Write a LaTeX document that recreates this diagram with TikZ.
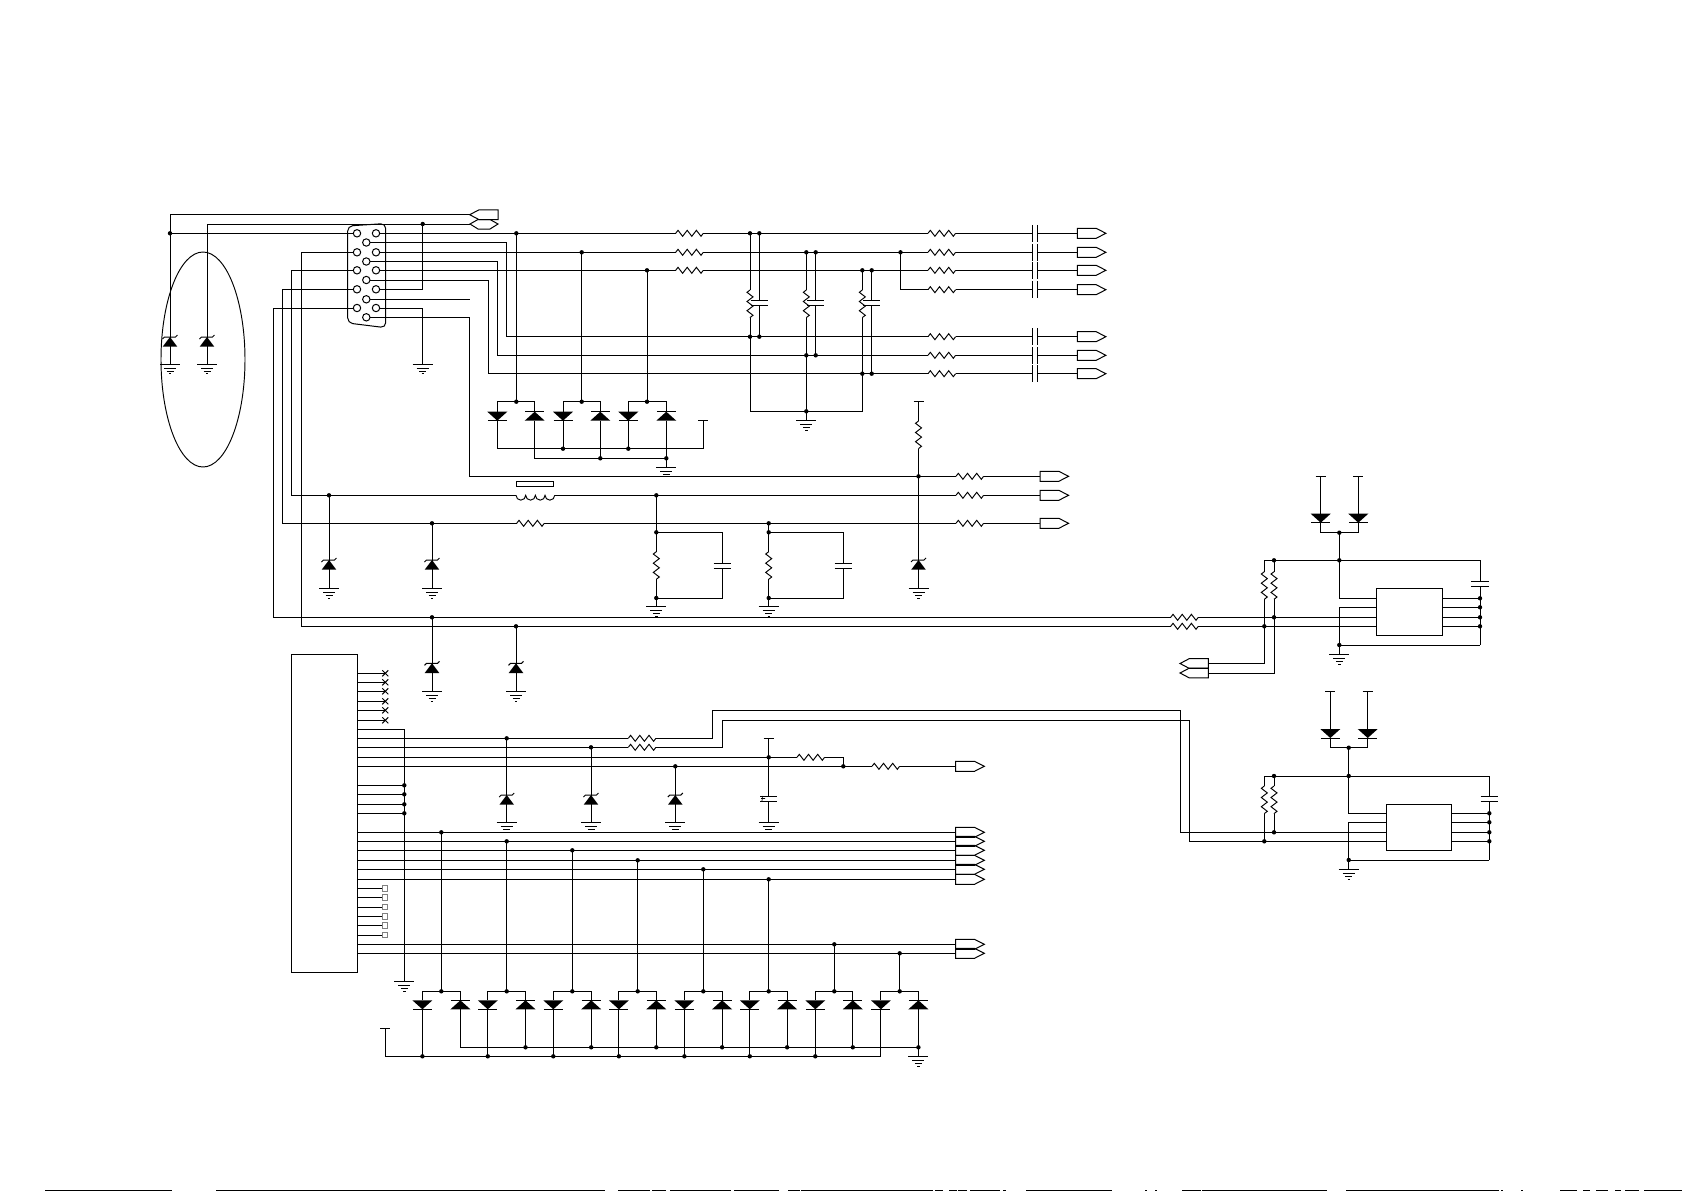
\documentclass[tikz,border=0pt]{standalone}
\usetikzlibrary{shapes.geometric}
% --- components: first argument is the name, coordinates are reference pixels
\newcommand{\Dot}[3]{\coordinate (#1) at (#2,#3);\fill (#1) circle (2.2);}
\newcommand{\Rh}[3]{\coordinate (#1w) at (#2,#3);\coordinate (#1e) at (#2+27.6,#3);
  \draw[zig] (#1w) -- ++(2.3,-3) -- ++(4.6,6) -- ++(4.6,-6) -- ++(4.6,6) -- ++(4.6,-6) -- ++(4.6,6) -- (#1e);}
\newcommand{\Rv}[3]{\coordinate (#1n) at (#2,#3);\coordinate (#1s) at (#2,#3+27.6);
  \draw[zig] (#1n) -- ++(-3,2.3) -- ++(6,4.6) -- ++(-6,4.6) -- ++(6,4.6) -- ++(-6,4.6) -- ++(6,4.6) -- (#1s);}
\newcommand{\Zen}[3]{\coordinate (#1a) at (#2,#3);
  \fill (#1a) -- ++(7.3,9.7) -- ++(-14.6,0) -- cycle;
  \draw (#2-7.5,#3+2) -- (#2-5.5,#3) -- (#2+5.5,#3) -- (#2+7.5,#3-2);}
\newcommand{\Gnd}[3]{\coordinate (#1) at (#2,#3);
  \draw (#2-10,#3) -- (#2+10,#3) (#2-6,#3+4) -- (#2+6,#3+4) (#2-3.5,#3+7) -- (#2+3.5,#3+7) (#2-1.2,#3+9.7) -- (#2+1.2,#3+9.7);}
\newcommand{\Tc}[3]{\coordinate (#1) at (#2,#3);\draw (#2-5,#3) -- (#2+5,#3);}
\newcommand{\Dd}[3]{\coordinate (#1a) at (#2,#3);\coordinate (#1k) at (#2,#3+9);
  \fill (#2-10,#3) -- (#2+10,#3) -- (#1k) -- cycle;\draw (#2-9.5,#3+9) -- (#2+9.5,#3+9);}
\newcommand{\Du}[3]{\coordinate (#1a) at (#2,#3);\coordinate (#1k) at (#2,#3+9);
  \fill (#1a) -- (#2+10,#3+9) -- (#2-10,#3+9) -- cycle;\draw (#2-9.5,#3) -- (#2+9.5,#3);}
\newcommand{\Cv}[3]{\coordinate (#1n) at (#2,#3);\coordinate (#1s) at (#2,#3+5.3);
  \draw (#2-8.7,#3) -- (#2+8.7,#3) (#2-8.7,#3+5.3) -- (#2+8.7,#3+5.3);}
\newcommand{\Cs}[2]{\coordinate (#1w) at (1032.3,#2);\coordinate (#1e) at (1037.3,#2);
  \draw (1032.3,#2-8.5) -- (1032.3,#2+8.5) (1037.3,#2-8.5) -- (1037.3,#2+8.5);}
\newcommand{\Ar}[3]{\coordinate (#1) at (#2,#3);
  \draw (#2,#3-5) -- (#2+18.8,#3-5) -- (#2+28.6,#3) -- (#2+18.8,#3+5) -- (#2,#3+5) -- cycle;}
\newcommand{\Al}[3]{\coordinate (#1) at (#2,#3);\coordinate (#1t) at (#2-28.3,#3);
  \draw (#1t) -- (#2-19,#3-4.9) -- (#2,#3-4.9) -- (#2,#3+4.9) -- (#2-19,#3+4.9) -- cycle;}
\tikzset{
  zig/.style={line width=.95pt,line join=miter},
  pin/.style={circle,draw,fill=white,inner sep=0pt,outer sep=0pt,minimum size=7.4pt},
  nc/.style={rectangle,draw=gray,inner sep=0pt,outer sep=0pt,minimum size=5.5pt},
  block/.style={rectangle,draw,inner sep=0pt,outer sep=0pt,fill=none},
}
\begin{document}
\begin{tikzpicture}[x=1pt,y=-1pt,line width=1pt]
\useasboundingbox (0,0) rectangle (1685,1191);

% bottom edge strip
\foreach \a/\b in {45/172,216/605,618/650,652/666,670/731,734/779,788/800,801/933,935/943,949/957,958/967,970/1000,1003/1006,1026/1112,1145/1147,1155/1157,1182/1201,1202/1327,1346/1499,1501/1503,1521/1523,1560/1577,1583/1590,1596/1608,1615/1621,1625/1639,1644/1682}
  \draw (\a,1190.5) -- (\b,1190.5);

% left-hand shield
\node[draw,ellipse,line width=.95pt,inner sep=0pt,outer sep=0pt,minimum width=84pt,minimum height=215pt] (shield) at (203,359.5) {};
\Al{ja}{498}{214.7}
\coordinate (jb) at (498,224);\coordinate (jbt) at (470,224);
\draw (jbt) -- (478,219.5) -- (490,219.5) -- (jb) -- (490,229) -- (478,229) -- cycle;
\Dot{d1}{170}{233.3}\Dot{d2}{422.7}{224}
\Zen{za}{170}{337}\Zen{zb}{207}{337}
\Gnd{ga}{170}{364}\Gnd{gb}{207}{364}\Gnd{gc}{422.7}{364}

% VGA connector
\draw[rounded corners=5pt] (347.7,226) -- (385.7,223.5) -- (385.7,327.7) -- (347.7,323) -- cycle;
\foreach \i/\y in {1/233.3,2/252.3,3/270.3,4/289.3,5/308}{
  \node[pin] (pa\i) at (357,\y) {};
  \node[pin] (pc\i) at (376,\y) {};}
\foreach \i/\y in {1/242.5,2/261.5,3/280,4/299.3,5/317.3}
  \node[pin] (pb\i) at (366.3,\y) {};

\draw (jat) -| (ga);
\draw (jbt) -| (gb);
\draw (d1) -- (pa1);
\draw (pc4) -| (d2);
\draw (pc5) -| (gc);
\coordinate (e1) at (470,299.3);
\draw (pb4) -- (e1);

% upper signal lines
\Dot{d3}{516.3}{233.3}\Dot{d4}{581.7}{252.3}\Dot{d5}{647}{270.3}
\Dot{d3b}{516.3}{401.7}\Dot{d4b}{581.7}{401.7}\Dot{d5b}{647}{401.7}
\Dot{d6a}{750}{233.3}\Dot{d6b}{759.3}{233.3}
\Dot{d7a}{806.3}{252.3}\Dot{d7b}{815.7}{252.3}
\Dot{d8a}{862.3}{270.3}\Dot{d8b}{871.7}{270.3}
\Dot{d9a}{750}{336.7}\Dot{d9b}{759.3}{336.7}
\Dot{d10a}{806.3}{355.3}\Dot{d10b}{815.7}{355.3}
\Dot{d11a}{862.3}{373.7}\Dot{d11b}{871.7}{373.7}
\Dot{d12}{806.3}{411.3}\Dot{d13}{900.5}{252.3}
\Rh{ra}{675.7}{233.3}\Rh{rb}{675.7}{252.3}\Rh{rc}{675.7}{270.3}
\Rh{rd}{928}{233.3}\Rh{re}{928}{252.3}\Rh{rf}{928}{270.3}\Rh{rg}{928}{289.7}
\Rh{rh}{928}{336.7}\Rh{ri}{928}{355.3}\Rh{rj}{928}{373.7}
\Cs{ca}{233.3}\Cs{cb}{252.3}\Cs{cc}{270.3}\Cs{cd}{289.7}\Cs{ce}{336.7}\Cs{cf}{355.3}\Cs{cg}{373.7}
\Ar{oa}{1077.3}{233.3}\Ar{ob}{1077.3}{252.3}\Ar{oc}{1077.3}{270.3}\Ar{od}{1077.3}{289.7}
\Ar{oe}{1077.3}{336.7}\Ar{of}{1077.3}{355.3}\Ar{og}{1077.3}{373.7}
\coordinate (v1) at (506.3,336.7);\coordinate (v2) at (497.3,355.3);\coordinate (v3) at (488.3,373.7);
\draw (pc1) -- (raw);\draw (rae) -- (rdw);\draw (rde) -- (caw);\draw (cae) -- (oa);
\draw (pc2) -- (rbw);\draw (rbe) -- (rew);\draw (ree) -- (cbw);\draw (cbe) -- (ob);
\draw (pc3) -- (rcw);\draw (rce) -- (rfw);\draw (rfe) -- (ccw);\draw (cce) -- (oc);
\draw (d13) |- (rgw);\draw (rge) -- (cdw);\draw (cde) -- (od);
\draw (pb1) -| (v1) -- (rhw);\draw (rhe) -- (cew);\draw (cee) -- (oe);
\draw (pb2) -| (v2) -- (riw);\draw (rie) -- (cfw);\draw (cfe) -- (of);
\draw (pb3) -| (v3) -- (rjw);\draw (rje) -- (cgw);\draw (cge) -- (og);
\draw (d3) -- (d3b);\draw (d4) -- (d4b);\draw (d5) -- (d5b);

% RC filters on the three colour lines
\Rv{rva}{750}{290}\Rv{rvb}{806.3}{290}\Rv{rvc}{862.3}{290}
\Cv{cva}{759.3}{300.3}\Cv{cvb}{815.7}{300.3}\Cv{cvc}{871.7}{300.3}
\draw (d6a) -- (rvan);\draw (rvas) -- (d9a);\draw (d6b) -- (cvan);\draw (cvas) -- (d9b);
\draw (d7a) -- (rvbn);\draw (rvbs) -- (d10a);\draw (d7b) -- (cvbn);\draw (cvbs) -- (d10b);
\draw (d8a) -- (rvcn);\draw (rvcs) -- (d11a);\draw (d8b) -- (cvcn);\draw (cvcs) -- (d11b);
\Gnd{gd}{806.3}{420.3}
\draw (d9a) |- (d12);\draw (d11a) |- (d12);\draw (d10a) -- (gd);

% protection diodes, upper group
\Dd{dda}{497.3}{411.7}\Du{ddb}{534.7}{411.7}
\Dd{ddc}{563}{411.7}\Du{ddd}{600.3}{411.7}
\Dd{dde}{628.3}{411.7}\Du{ddf}{666.3}{411.7}
\draw (ddaa) |- (d3b) -| (ddba);
\draw (ddca) |- (d4b) -| (ddda);
\draw (ddea) |- (d5b) -| (ddfa);
\Dot{d20}{563}{448.7}\Dot{d21}{628.3}{448.7}\Dot{d22}{600.3}{458.3}\Dot{d23}{666.3}{458.3}
\Tc{ta}{703}{420.3}
\coordinate (cn1) at (703,448.7);
\Gnd{ge}{666.3}{467}
\draw (ddak) |- (cn1) -- (ta);
\draw (ddck) -- (d20);\draw (ddek) -- (d21);
\draw (ddbk) |- (d23);\draw (dddk) -- (d22);\draw (ddfk) -- (ge);

% sync and power lines
\coordinate (v4) at (469.7,476.3);
\coordinate (h1) at (301,626.3);\coordinate (h2) at (291.3,495.3);
\coordinate (h3) at (282.3,523.3);\coordinate (h4) at (273.3,617.3);
\Dot{d14}{918.5}{476.3}
\Rh{rk}{956}{476.3}\Rh{rl}{956}{495.3}\Rh{rm}{956}{523.3}\Rh{rn}{516.7}{523.3}
\Ar{oh}{1040}{476.3}\Ar{oi}{1040}{495.3}\Ar{oj}{1040}{523.3}
\coordinate (lw) at (516,495.3);\coordinate (le) at (554.7,495.3);
\draw[line width=.95pt] (lw) arc[start angle=180,end angle=0,radius=4.84] arc[start angle=180,end angle=0,radius=4.84] arc[start angle=180,end angle=0,radius=4.84] arc[start angle=180,end angle=0,radius=4.84];
\node[block,minimum width=37.7pt,minimum height=5pt] (core) at (534.85,483.8) {};
\draw (pb5) -| (v4) -- (rkw);\draw (rke) -- (oh);
\draw (pa3) -| (h2) -- (lw);\draw (le) -- (rlw);\draw (rle) -- (oi);
\draw (pa4) -| (h3) -- (rnw);\draw (rne) -- (rmw);\draw (rme) -- (oj);

\Dot{d31}{329}{495.3}\Dot{d32}{432}{523.3}\Dot{d33}{656.3}{495.3}\Dot{d34}{768.7}{523.3}
\Dot{d35}{432}{617.3}\Dot{d36}{516}{626.3}
\Zen{zc}{329}{560}\Zen{zd}{432}{560}\Zen{ze}{432}{663.3}\Zen{zf}{516}{663.3}\Zen{zg}{918.5}{560}
\Gnd{gf}{329}{588.3}\Gnd{gg}{432}{588.3}\Gnd{gh}{432}{691.3}\Gnd{gi}{516}{691.3}\Gnd{gj}{918.5}{588.3}
\draw (d31) -- (gf);\draw (d32) -- (gg);\draw (d35) -- (gh);\draw (d36) -- (gi);
\Tc{tb}{918.5}{401.5}\Rv{rvd}{918.5}{421}
\draw (tb) -- (rvdn);\draw (rvds) -- (d14);\draw (d14) -- (gj);

\Dot{d41}{656.3}{532.3}\Dot{d42}{656.3}{598}\Dot{d43}{768.7}{532.3}\Dot{d44}{768.7}{598}
\Rv{rve}{656.3}{551.7}\Rv{rvf}{768.7}{551.7}
\Cv{cvd}{722.3}{563.3}\Cv{cve}{843.3}{563.3}
\Gnd{gk}{656.3}{606.7}\Gnd{gl}{768.7}{606.7}
\draw (d33) -- (rven);\draw (rves) -- (gk);
\draw (d34) -- (rvfn);\draw (rvfs) -- (gl);
\draw (d41) -| (cvdn);\draw (cvds) |- (d42);
\draw (d43) -| (cven);\draw (cves) |- (d44);

% upper driver block
\node[block,minimum width=66.4pt,minimum height=47pt] (ica) at (1409.5,611.8) {};
\foreach \i/\y in {1/598.3,2/607.3,3/617.3,4/626.3}{
  \coordinate (ial\i) at (1376.3,\y);\coordinate (iar\i) at (1442.7,\y);
  \Dot{ias\i}{1480}{\y}
  \draw (iar\i) -- (ias\i);}
\Tc{tc}{1320.7}{476}\Tc{td}{1358.3}{476}
\Dd{dea}{1320.7}{513.7}\Dd{deb}{1358.3}{513.7}
\Dot{d51}{1339.3}{532.7}\Dot{d52}{1339.3}{560.3}\Dot{d53}{1274}{560.3}\Dot{d54}{1339.3}{645}
\Dot{d55}{1264.3}{626.3}\Dot{d56}{1274}{617.3}
\Rv{rsa}{1264.3}{571.7}\Rv{rsb}{1274}{571.7}
\Rh{rpa}{1170.7}{617.3}\Rh{rpb}{1170.7}{626.3}
\Cv{cia}{1480}{581.3}
\coordinate (k1) at (1480,560.3);\coordinate (k2) at (1480,645);
\Gnd{gm}{1339.3}{654.3}
\Al{qa}{1208.3}{663.5}\Al{qb}{1208.3}{673}
\draw (tc) -- (deaa);\draw (td) -- (deba);
\draw (deak) |- (d51) -| (debk);
\draw (d51) -- (d52);
\draw (rsan) |- (k1) -- (cian);
\draw (d53) -- (rsbn);
\draw (cias) -- (k2);
\draw (rsas) |- (qa);\draw (rsbs) |- (qb);
\draw (d52) |- (ial1);
\draw (ial2) -| (gm);
\draw (d54) -- (k2);
\draw (pa2) -| (h1) -- (rpbw);\draw (rpbe) -- (ial4);
\draw (pa5) -| (h4) -- (rpaw);\draw (rpae) -- (ial3);

% main controller block
\node[block,minimum width=66.4pt,minimum height=318.2pt] (mcu) at (324.5,813.4) {};
\foreach \i/\y in {1/673.3,2/682.3,3/691.3,4/701.3,5/710.3,6/720.3}{
  \coordinate (nc\i) at (385.3,\y);
  \draw (nc\i -| mcu.east) -- (nc\i);
  \draw[line width=.95pt] (382.3,\y-3) -- (388.3,\y+3) (382.3,\y+3) -- (388.3,\y-3);}
\foreach \i/\y in {1/888.3,2/897.3,3/907,4/916.3,5/925.3,6/935}{
  \node[nc] (sq\i) at (385,\y) {};
  \draw (sq\i -| mcu.east) -- (sq\i);}
\Gnd{gn}{404.3}{981.7}
\coordinate (n1) at (404.3,729.3);
\draw (n1 -| mcu.east) -- (n1) -- (gn);
\foreach \i/\y in {1/785.3,2/794.3,3/804.3,4/813.3}{
  \Dot{nd\i}{404.3}{\y}
  \draw (nd\i -| mcu.east) -- (nd\i);}

% control lines from the controller
\Rh{rta}{628.3}{738.3}\Rh{rtb}{628.3}{747.3}\Rh{rtc}{797}{757.3}\Rh{rtd}{872}{766.3}
\Dot{d61}{506.7}{738.3}\Dot{d62}{591}{747.3}\Dot{d63}{675.3}{766.3}\Dot{d64}{768.7}{757.3}\Dot{d65}{843.3}{766.3}
\Zen{zh}{506.7}{795}\Zen{zi}{591}{795}\Zen{zj}{675.3}{795}
\Gnd{go}{506.7}{822.3}\Gnd{gp}{591}{822.3}\Gnd{gq}{675.3}{822.3}\Gnd{gr}{768.7}{822.5}
\draw (d61) -- (go);\draw (d62) -- (gp);\draw (d63) -- (gq);
\Tc{te}{768.7}{738.3}\Cv{cpa}{768.7}{796}
\draw[line width=.7pt] (762.5,796) -- (762,801) (761,798.5) -- (765,798.5);
\draw (te) -- (cpan);\draw (cpas) -- (gr);
\Ar{ok}{955.7}{766.3}
\coordinate (u1) at (712.3,710.3);\coordinate (u2) at (1180.3,832.3);
\coordinate (u3) at (722.3,720.3);\coordinate (u4) at (1189.3,841.3);
\draw (rtaw -| mcu.east) -- (rtaw);\draw (rtbw -| mcu.east) -- (rtbw);
\draw (rtcw -| mcu.east) -- (rtcw);\draw (rtdw -| mcu.east) -- (rtdw);
\draw (rtce) -| (d65);\draw (rtde) -- (ok);

% lower driver block
\node[block,minimum width=65.4pt,minimum height=46pt] (icb) at (1419,827.3) {};
\foreach \i/\y in {1/813.3,2/822.3,3/832.3,4/841.3}{
  \coordinate (ibl\i) at (1386.3,\y);\coordinate (ibr\i) at (1451.7,\y);
  \Dot{ibs\i}{1489.3}{\y}
  \draw (ibr\i) -- (ibs\i);}
\Tc{tf}{1330.3}{691.3}\Tc{tg}{1367.7}{691.3}
\Dd{dfa}{1330.3}{729}\Dd{dfb}{1367.7}{729}
\Dot{d71}{1348.7}{747.7}\Dot{d72}{1348.7}{776}\Dot{d73}{1274}{776}\Dot{d74}{1348.7}{860}
\Dot{d75}{1264.3}{841.3}\Dot{d76}{1274}{832.3}
\Rv{rua}{1264.3}{786}\Rv{rub}{1274}{786}
\Cv{cib}{1489.3}{796.3}
\coordinate (k3) at (1489.3,776);\coordinate (k4) at (1489.3,860);
\Gnd{gs}{1348.7}{869.3}
\draw (tf) -- (dfaa);\draw (tg) -- (dfba);
\draw (dfak) |- (d71) -| (dfbk);
\draw (d71) -- (d72);
\draw (ruan) |- (k3) -- (cibn);
\draw (d73) -- (rubn);
\draw (cibs) -- (k4);
\draw (ruas) -- (d75);\draw (rubs) -- (d76);
\draw (d72) |- (ibl1);
\draw (ibl2) -| (gs);
\draw (d74) -- (k4);
\draw (rtae) -| (u1) -| (u2) -- (ibl3);
\draw (rtbe) -| (u3) -| (u4) -- (ibl4);

% data bus to the right
\foreach \i/\y in {1/832.3,2/841.3,3/850.3,4/860.3,5/869.3,6/879.3,7/944.3,8/953.3}{
  \Ar{ob\i}{955.7}{\y}
  \draw (ob\i -| mcu.east) -- (ob\i);}

% lower protection diodes
\foreach \i/\xl/\xc/\xr/\yb in {1/422.4/441.3/460.4/832.3,2/487.8/506.7/525.5/841.3,3/553.3/572.3/591.2/850.3,4/618.9/637.7/656.3/860.3,5/684.4/703.3/722.1/869.3,6/749.8/768.7/787.1/879.3,7/815.3/834.3/852.8/944.3,8/880.9/899.7/918.4/953.3}{
  \Dot{bd\i}{\xc}{\yb}
  \Dot{cd\i}{\xc}{991.3}
  \Dd{dl\i}{\xl}{1000.3}
  \Du{dr\i}{\xr}{1000.3}
  \draw (bd\i) -- (cd\i);
  \draw (dl\i a) |- (cd\i) -| (dr\i a);
}
\Tc{th}{385}{1028.3}
\coordinate (rb1) at (880.9,1056.3);
\Dot{rb2}{918.4}{1047.3}
\Gnd{gt}{918.4}{1056.7}
\draw (th) |- (rb1) -- (dl8k);
\draw (dr1k) |- (rb2);
\draw (dr8k) -- (gt);
\foreach \i/\xl in {1/422.4,2/487.8,3/553.3,4/618.9,5/684.4,6/749.8,7/815.3}{
  \Dot{rl\i}{\xl}{1056.3}
  \draw (dl\i k) -- (rl\i);}
\foreach \i/\xr in {2/525.5,3/591.2,4/656.3,5/722.1,6/787.1,7/852.8}{
  \Dot{rr\i}{\xr}{1047.3}
  \draw (dr\i k) -- (rr\i);}
\end{tikzpicture}
\end{document}
